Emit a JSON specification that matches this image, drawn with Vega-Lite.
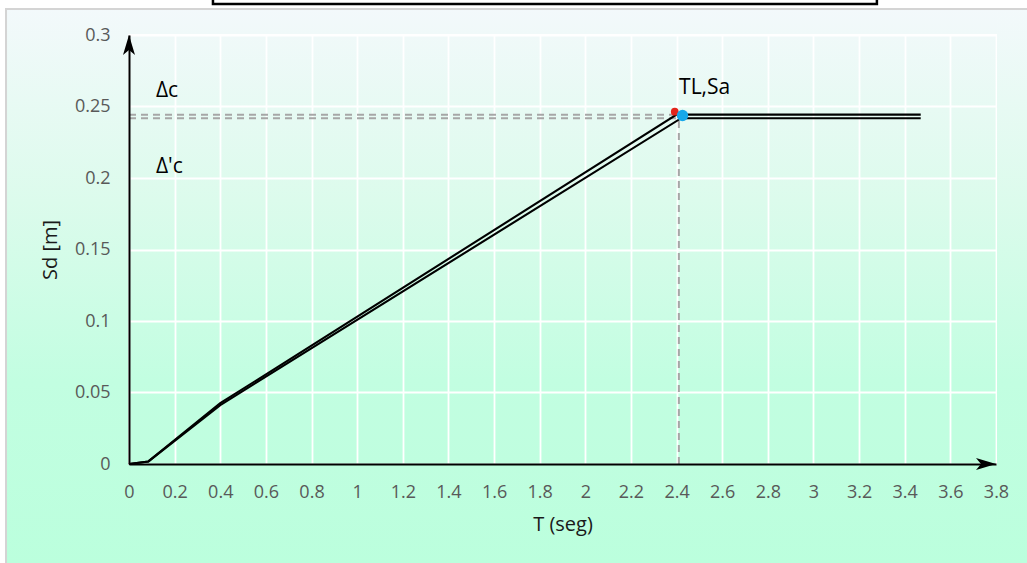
{
  "$schema": "https://vega.github.io/schema/vega-lite/v6.json",
  "width": 867,
  "height": 429,
  "autosize": {"type": "none"},
  "padding": {"left": 129, "top": 35, "right": 31, "bottom": 99},
  "background": "white",
  "config": {
    "font": "Open Sans",
    "view": {
      "stroke": null,
      "fill": {"gradient": "linear", "x1": 0, "y1": 0, "x2": 0, "y2": 1,
        "stops": [{"offset": 0, "color": "#f0f9f9"}, {"offset": 0.385, "color": "#dcfbec"}, {"offset": 0.804, "color": "#c2fee1"}, {"offset": 1, "color": "#bffedf"}]}
    },
    "axis": {"labelFlush": false, "labelOverlap": false, "ticks": false}
  },
  "resolve": {"axis": {"x": "independent", "y": "independent"}},
  "datasets": {
    "curves": [
      {"T": 0, "Sd": 0, "s": "A"}, {"T": 0.085, "Sd": 0.0018, "s": "A"}, {"T": 0.4, "Sd": 0.0425, "s": "A"}, {"T": 2.4, "Sd": 0.2443, "s": "A"}, {"T": 3.47, "Sd": 0.2443, "s": "A"},
      {"T": 0, "Sd": 0, "s": "B"}, {"T": 0.085, "Sd": 0.0018, "s": "B"}, {"T": 0.4, "Sd": 0.0412, "s": "B"}, {"T": 2.42, "Sd": 0.2418, "s": "B"}, {"T": 3.47, "Sd": 0.2418, "s": "B"}
    ],
    "guides": [
      {"x": 0, "x2": 2.39, "y": 0.2443, "y2": 0.2443},
      {"x": 0, "x2": 2.43, "y": 0.2418, "y2": 0.2418},
      {"x": 2.41, "x2": 2.41, "y": 0, "y2": 0.2418}
    ],
    "points": [
      {"T": 2.392, "Sd": 0.2464, "p": "Δc"},
      {"T": 2.426, "Sd": 0.2437, "p": "Δ'c"}
    ],
    "labels": [
      {"T": 0.118, "Sd": 0.2566, "txt": "Δc"},
      {"T": 0.118, "Sd": 0.2035, "txt": "Δ'c"},
      {"T": 2.411, "Sd": 0.2587, "txt": "TL,Sa"}
    ]
  },
  "layer": [
    {
      "data": {"values": [{}]},
      "mark": {"type": "rect", "color": {"gradient": "linear", "x1": 0, "y1": 0, "x2": 0, "y2": 1,
        "stops": [{"offset": 0, "color": "#f3f9fb"}, {"offset": 0.345, "color": "#dcfbec"}, {"offset": 0.67, "color": "#c2fee1"}, {"offset": 1, "color": "#bbffdd"}]}},
      "encoding": {
        "x": {"datum": -0.539, "type": "quantitative", "scale": {"domain": [0, 3.8], "nice": false, "zero": false}, "axis": null},
        "x2": {"datum": -0.0044},
        "y": {"datum": -0.0706, "type": "quantitative", "scale": {"domain": [0, 0.3], "nice": false, "zero": false}, "axis": null},
        "y2": {"datum": 0.3182}
      }
    },
    {
      "data": {"values": [{}]},
      "mark": {"type": "rect", "color": {"gradient": "linear", "x1": 0, "y1": 0, "x2": 0, "y2": 1,
        "stops": [{"offset": 0, "color": "#f3f9fb"}, {"offset": 0.345, "color": "#dcfbec"}, {"offset": 0.67, "color": "#c2fee1"}, {"offset": 1, "color": "#bbffdd"}]}},
      "encoding": {
        "x": {"datum": 3.8044, "type": "quantitative", "axis": null},
        "x2": {"datum": 3.96},
        "y": {"datum": -0.0706, "type": "quantitative", "axis": null},
        "y2": {"datum": 0.3182}
      }
    },
    {
      "data": {"values": [{}]},
      "mark": {"type": "rect", "color": {"gradient": "linear", "x1": 0, "y1": 0, "x2": 0, "y2": 1,
        "stops": [{"offset": 0, "color": "#f3f9fb"}, {"offset": 1, "color": "#f0f9f9"}]}},
      "encoding": {
        "x": {"datum": -0.0044, "type": "quantitative", "axis": null},
        "x2": {"datum": 3.8044},
        "y": {"datum": 0.3007, "type": "quantitative", "axis": null},
        "y2": {"datum": 0.3182}
      }
    },
    {
      "data": {"values": [{}]},
      "mark": {"type": "rect", "color": {"gradient": "linear", "x1": 0, "y1": 0, "x2": 0, "y2": 1,
        "stops": [{"offset": 0, "color": "#bffedf"}, {"offset": 1, "color": "#bbffdd"}]}},
      "encoding": {
        "x": {"datum": -0.0044, "type": "quantitative", "axis": null},
        "x2": {"datum": 3.8044},
        "y": {"datum": -0.0706, "type": "quantitative", "axis": null},
        "y2": {"datum": -0.0007}
      }
    },
    {
      "data": {"values": [{}]},
      "mark": {"type": "rect", "filled": false, "color": "#d4d4d4", "strokeWidth": 2},
      "encoding": {
        "x": {"datum": -0.539, "type": "quantitative", "axis": null},
        "x2": {"datum": 3.96},
        "y": {"datum": -0.0706, "type": "quantitative", "axis": null},
        "y2": {"datum": 0.3182}
      }
    },
    {
      "data": {"values": [{}]},
      "mark": {"type": "rect", "fill": "white", "stroke": "black", "strokeWidth": 2.5},
      "encoding": {
        "x": {"datum": 0.368, "type": "quantitative", "axis": null},
        "x2": {"datum": 3.278},
        "y": {"datum": 0.3217, "type": "quantitative", "axis": null},
        "y2": {"datum": 0.34}
      }
    },
    {
      "data": {"name": "guides"},
      "mark": {"type": "rule", "color": "#a6a6a6", "strokeWidth": 2, "strokeDash": [7, 5]},
      "encoding": {
        "x": {"field": "x", "type": "quantitative", "axis": null},
        "x2": {"field": "x2"},
        "y": {"field": "y", "type": "quantitative", "axis": null},
        "y2": {"field": "y2"}
      }
    },
    {
      "data": {"name": "curves"},
      "mark": {"type": "line", "color": "black", "strokeWidth": 2.1},
      "encoding": {
        "x": {"field": "T", "type": "quantitative",
          "axis": {"orient": "bottom", "values": [0, 0.2, 0.4, 0.6, 0.8, 1, 1.2, 1.4, 1.6, 1.8, 2, 2.2, 2.4, 2.6, 2.8, 3, 3.2, 3.4, 3.6, 3.8],
            "grid": true, "gridColor": "white", "gridWidth": 1.8, "gridOpacity": 1, "labels": false, "domain": false, "title": null, "zindex": 0}},
        "y": {"field": "Sd", "type": "quantitative",
          "axis": {"orient": "left", "values": [0, 0.05, 0.1, 0.15, 0.2, 0.25, 0.3],
            "grid": true, "gridColor": "white", "gridWidth": 1.8, "gridOpacity": 1, "labels": false, "domain": false, "title": null, "zindex": 0}},
        "detail": {"field": "s"}
      }
    },
    {
      "data": {"name": "points"},
      "mark": {"type": "point", "filled": true, "opacity": 1, "shape": "circle"},
      "encoding": {
        "x": {"field": "T", "type": "quantitative", "axis": null},
        "y": {"field": "Sd", "type": "quantitative", "axis": null},
        "color": {"field": "p", "type": "nominal", "scale": {"domain": ["Δc", "Δ'c"], "range": ["#e3241b", "#17a8ea"]}, "legend": null},
        "size": {"field": "p", "type": "ordinal", "scale": {"domain": ["Δc", "Δ'c"], "range": [60, 130]}, "legend": null},
        "order": {"field": "Sd", "sort": "descending"}
      }
    },
    {
      "data": {"values": [{}]},
      "mark": {"type": "point", "filled": true, "opacity": 1, "color": "black", "size": 400, "shape": "M0,0 L0.6,2 L0,1.5 L-0.6,2 Z"},
      "encoding": {
        "x": {"datum": 0, "type": "quantitative", "axis": null},
        "y": {"datum": 0.3, "type": "quantitative", "axis": null}
      }
    },
    {
      "data": {"values": [{}]},
      "mark": {"type": "point", "filled": true, "opacity": 1, "color": "black", "size": 400, "shape": "M0,0 L-2,-0.6 L-1.5,0 L-2,0.6 Z"},
      "encoding": {
        "x": {"datum": 3.8, "type": "quantitative", "axis": null},
        "y": {"datum": 0, "type": "quantitative", "axis": null}
      }
    },
    {
      "data": {"name": "labels"},
      "mark": {"type": "text", "align": "left", "baseline": "alphabetic", "fontSize": 21, "color": "black", "font": "Open Sans"},
      "encoding": {
        "x": {"field": "T", "type": "quantitative",
          "axis": {"orient": "bottom", "values": [0, 0.2, 0.4, 0.6, 0.8, 1, 1.2, 1.4, 1.6, 1.8, 2, 2.2, 2.4, 2.6, 2.8, 3, 3.2, 3.4, 3.6, 3.8],
            "format": "~g", "grid": false, "domain": true, "domainColor": "black", "domainWidth": 2,
            "labelColor": "#595959", "labelFontSize": 18, "labelPadding": 19,
            "title": "T (seg)", "titleFontSize": 20, "titleFontWeight": "normal", "titleColor": "#1a1a1a", "titlePadding": 13, "zindex": 1}},
        "y": {"field": "Sd", "type": "quantitative",
          "axis": {"orient": "left", "values": [0, 0.05, 0.1, 0.15, 0.2, 0.25, 0.3],
            "format": "~g", "grid": false, "domain": true, "domainColor": "black", "domainWidth": 2,
            "labelColor": "#595959", "labelFontSize": 18, "labelPadding": 19,
            "title": "Sd [m]", "titleFontSize": 20, "titleFontWeight": "normal", "titleColor": "#1a1a1a", "titlePadding": 14, "zindex": 1}},
        "text": {"field": "txt"}
      }
    }
  ]
}
